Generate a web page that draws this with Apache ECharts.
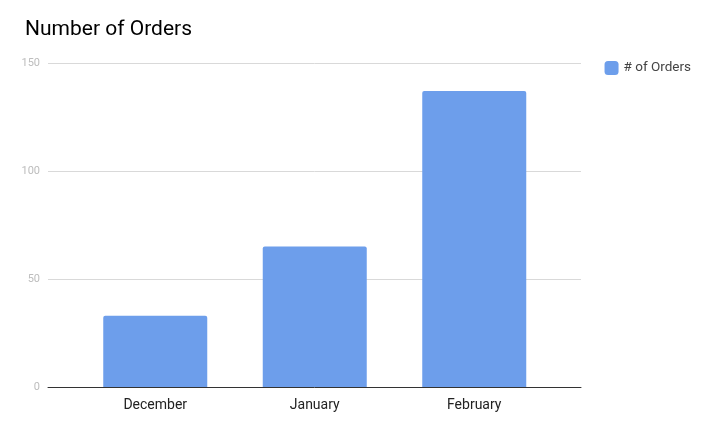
<!DOCTYPE html>
<html><head><meta charset="utf-8">
<script src="https://cdn.jsdelivr.net/npm/echarts@6/dist/echarts.min.js"></script>
<style>html,body{margin:0;padding:0;background:#fff}#c{width:728px;height:432px}</style>
</head><body><div id="c"></div>
<script>
var categories = ['December', 'January', 'February'];
var orders = [33, 65, 137];
var seriesName = '# of Orders';
var yTicks = [0, 50, 100, 150];

var chart = echarts.init(document.getElementById('c'));
var yMin = yTicks[0], yMax = yTicks[yTicks.length - 1];
chart.setOption({
  backgroundColor: '#fff',
  animation: false,
  title: {
    text: 'Number of Orders', left: 20, top: 14,
    textStyle: { fontFamily: 'Roboto', fontSize: 21, fontWeight: 'normal', color: '#000' }
  },
  legend: {
    data: [seriesName], right: 32, top: 56, icon: 'roundRect',
    itemWidth: 14, itemHeight: 14, itemGap: 10,
    textStyle: { fontFamily: 'Roboto', fontSize: 13.5, color: '#444' }
  },
  grid: [
    { left: 48, right: 147, top: 63, bottom: 45, containLabel: false },
    { left: 75.5, right: 174, top: 63, bottom: 45, containLabel: false }
  ],
  xAxis: [
    { type: 'value', gridIndex: 0, min: 0, max: 1,
      axisLine: { show: true, onZero: false, lineStyle: { color: '#333', width: 1 } },
      axisTick: { show: false }, axisLabel: { show: false }, splitLine: { show: false } },
    { type: 'category', gridIndex: 1, data: categories,
      axisLine: { show: false }, axisTick: { show: false },
      axisLabel: { fontFamily: 'Roboto', fontSize: 14, color: '#222', margin: 11 } }
  ],
  yAxis: [
    { type: 'value', gridIndex: 0, min: yMin, max: yMax, interval: 50,
      axisLine: { show: false }, axisTick: { show: false },
      splitLine: { lineStyle: { color: '#d9d9d9' } },
      axisLabel: { fontFamily: 'Roboto', fontSize: 11, color: '#bdbdbd', margin: 8 } },
    { type: 'value', gridIndex: 1, min: yMin, max: yMax, interval: 50, show: false,
      splitLine: { show: false } }
  ],
  series: [{
    name: seriesName, type: 'bar', xAxisIndex: 1, yAxisIndex: 1, data: orders, barWidth: 104,
    itemStyle: { color: '#6d9eeb', borderRadius: [2, 2, 0, 0] }
  }]
});
</script></body></html>
